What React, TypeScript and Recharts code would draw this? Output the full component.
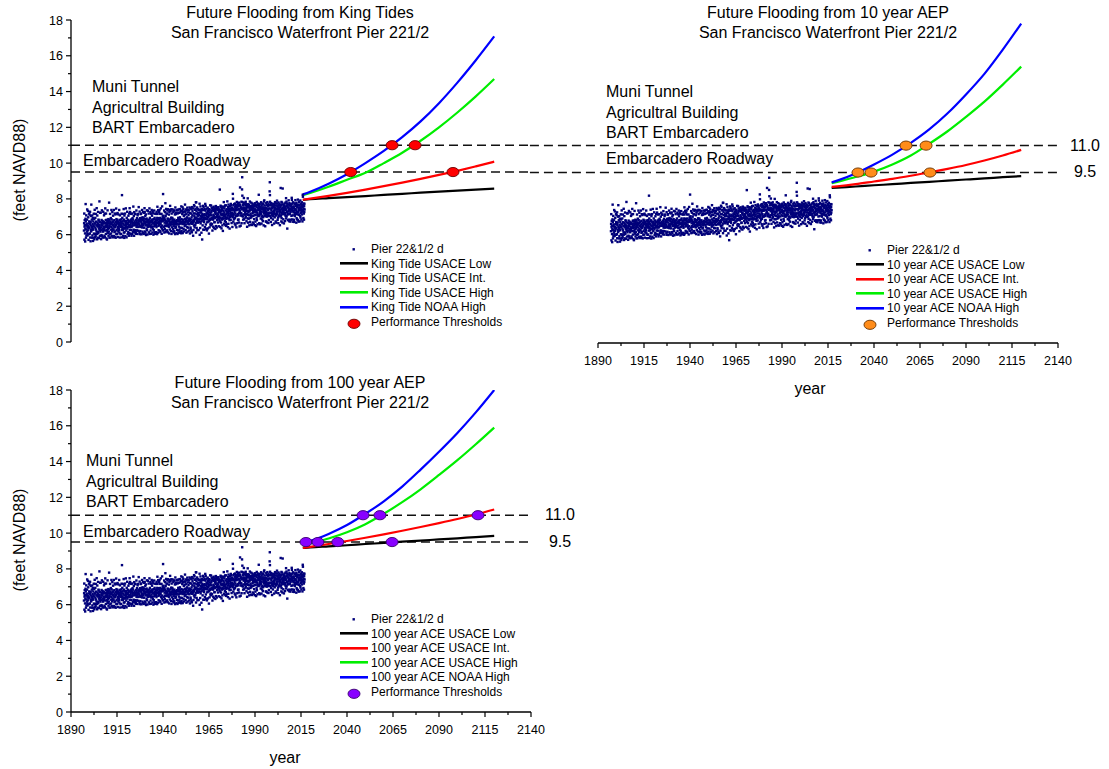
import React from "react";
import { ComposedChart, XAxis, YAxis, Line, Scatter, ReferenceLine } from "recharts";

const FONT = '"Liberation Sans", Arial, Helvetica, sans-serif';

// ---- observed monthly maxima at Pier 22 1/2 (feet NAVD88 x 100), Jan..Dec ----
const OBS_FIRST_YEAR = 1897;
const OBS_MONTHLY: string[] = [
  "623 664 718 572 645 681 653 607 562 634 689 771",
  "674 583 629 708 595 652 661 617 684 741 606 643",
  "596 648 733 624 697 635 571 662 639 718 674 603",
  "641 712 607 663 728 584 655 563 672 629 704 618",
  "768 625 647 684 583 641 707 596 659 632 693 565",
  "628 674 583 651 717 606 645 688 574 662 739 603",
  "663 585 694 637 592 716 628 673 604 651 617 748",
  "604 652 574 707 668 583 661 616 727 645 608 684",
  "679 634 656 581 648 786 624 671 593 638 722 626",
  "617 723 641 668 575 653 598 682 627 736 664 594",
  "652 585 676 634 662 617 728 645 584 671 626 708",
  "635 668 594 717 643 586 664 747 623 652 681 604",
  "718 642 665 579 683 627 573 654 676 618 736 644",
  "609 664 632 687 594 675 638 617 779 652 583 684",
  "663 602 716 645 672 584 657 693 628 606 661 738",
  "643 685 592 667 618 726 634 672 653 585 706 628",
  "674 628 656 738 593 645 681 614 663 718 641 586",
  "618 713 647 583 672 654 746 603 687 625 664 717",
  "682 604 663 721 636 587 674 642 618 713 654 633",
  "627 664 738 612 683 645 584 708 652 676 603 661",
  "664 643 604 685 652 717 626 673 821 585 694 638",
  "645 716 663 627 594 678 656 743 612 684 637 582",
  "707 613 676 652 718 634 592 665 643 747 672 654",
  "623 676 585 694 642 665 728 634 657 603 683 662",
  "665 614 706 643 675 594 652 718 608 673 748 627",
  "644 727 653 605 682 664 626 676 716 643 594 687",
  "673 646 603 718 654 692 665 614 684 652 757 623",
  "628 704 667 594 726 618 674 653 612 715 664 625",
  "716 654 613 682 605 667 735 643 676 624 692 656",
  "652 604 708 665 643 716 622 684 662 754 645 673",
  "681 658 614 729 676 603 692 648 620 687 715 643",
  "645 718 671 602 694 659 650 738 683 640 617 697",
  "662 609 726 684 653 677 604 691 639 722 665 748",
  "727 674 618 663 705 611 686 652 713 598 671 654",
  "634 690 657 736 625 681 601 672 649 733 643 668",
  "676 652 718 613 684 659 646 747 604 670 694 648",
  "651 726 623 675 668 605 717 640 683 656 738 674",
  "706 643 678 612 727 685 631 664 719 600 667 625",
  "646 687 735 661 613 694 670 654 605 717 652 682",
  "673 614 658 716 650 642 728 683 667 603 694 756",
  "716 664 611 685 737 672 649 625 692 660 726 653",
  "664 738 683 620 676 716 614 694 659 747 673 645",
  "643 676 716 605 634 687 758 651 675 624 703 680",
  "827 694 625 706 679 643 684 735 612 693 667 632",
  "726 651 683 776 615 704 648 675 744 663 620 717",
  "663 718 624 671 735 652 690 613 687 742 649 675",
  "681 644 712 658 607 726 673 738 629 685 761 664",
  "652 733 669 621 695 658 742 604 718 641 674 690",
  "694 657 741 683 618 670 632 726 659 735 612 647",
  "672 619 684 735 660 713 603 676 752 638 721 665",
  "643 715 656 609 723 674 738 627 681 662 604 736",
  "719 676 623 694 657 741 610 688 645 722 673 628",
  "661 743 697 616 682 639 725 664 733 670 608 758",
  "687 621 734 672 638 715 659 753 609 683 726 661",
  "744 676 632 705 671 618 730 663 712 648 689 768",
  "654 728 670 626 741 682 657 714 611 736 673 695",
  "696 642 751 679 617 724 665 639 738 660 709 683",
  "674 735 623 691 658 752 686 607 721 678 747 640",
  "632 685 718 664 743 619 697 670 613 754 661 708",
  "731 663 679 746 594 672 626 719 684 651 765 675",
  "703 758 641 718 692 739 655 687 742 665 781 612",
  "781 696 730 638 714 677 752 689 625 743 671 706",
  "667 722 689 741 626 708 674 738 712 685 773 599",
  "724 672 637 691 758 663 736 705 689 725 611 743",
  "675 742 698 573 716 737 652 709 684 761 628 692",
  "753 681 706 738 670 627 715 744 693 642 689 772",
  "692 734 761 657 708 633 686 719 745 701 624 718",
  "669 723 687 751 635 698 732 673 714 704 741 606",
  "742 678 725 641 737 683 709 764 690 656 718 662",
  "686 763 652 727 708 749 694 660 735 688 623 751",
  "738 684 741 645 697 712 756 703 638 732 692 669",
  "671 747 693 739 724 632 726 715 760 648 742 698",
  "754 697 640 706 745 681 737 719 699 752 668 713",
  "690 738 753 647 702 726 741 695 683 739 852 674",
  "726 643 695 762 716 731 668 756 709 635 690 744",
  "684 757 736 652 718 693 621 708 754 689 733 714",
  "782 705 661 747 723 758 710 676 691 763 654 700",
  "735 670 764 649 713 688 742 658 729 694 719 786",
  "693 741 706 642 754 727 661 768 715 738 690 745",
  "746 681 634 733 698 760 704 722 742 683 772 709",
  "703 764 748 665 736 722 751 707 643 745 698 828",
  "801 716 673 765 709 742 686 738 771 694 727 662",
  "756 692 774 718 653 737 765 704 743 706 641 758",
  "737 783 705 754 664 741 716 772 708 682 759 713",
  "685 744 763 668 779 722 740 646 731 768 864 724",
  "762 707 650 748 719 753 719 784 664 741 706 853",
  "921 818 782 745 701 767 684 752 713 776 734 805",
  "743 686 751 664 779 712 768 723 747 695 730 784",
  "702 763 737 771 675 748 716 758 644 733 769 691",
  "803 711 667 756 724 770 689 732 765 708 652 746",
  "731 754 785 672 738 693 760 717 656 752 704 779",
  "697 743 706 762 751 654 739 774 721 668 745 727",
  "764 705 752 661 728 733 687 759 770 712 766 653",
  "742 776 673 736 709 762 725 648 731 754 692 783",
  "681 735 767 720 658 752 706 774 712 743 769 704",
  "823 761 738 664 753 707 772 726 715 658 750 736",
  "754 690 746 781 716 763 662 728 701 742 685 774",
  "705 768 753 676 744 698 771 737 652 726 785 719",
  "792 745 706 763 718 751 647 736 740 703 674 727",
  "713 776 672 749 724 701 765 668 782 716 741 709",
  "761 704 738 665 773 747 682 723 718 764 706 842",
  "893 821 784 746 703 765 722 671 776 693 738 724",
  "747 763 712 654 751 773 706 729 685 761 716 753",
  "703 758 771 725 662 734 766 741 697 748 782 715",
  "752 716 674 763 741 707 775 667 728 714 742 790",
  "718 774 756 683 729 741 695 763 664 780 706 752",
  "764 743 705 772 716 739 653 728 767 702 755 861",
  "741 706 765 674 783 692 724 717 779 745 668 733",
  "858 752 714 768 686 725 743 736 663 761 718 750",
  "773 745 722 676 751 712 779 704 737 758 804 691",
  "742 785 703 759 774 726 634 767 716 753 681 730",
  "768 713 751 792 684 734 740 675 776 718 762 745",
  "716 767 745 673 728 771 684 762 739 705 753 806",
  "794 742 773 685 732 708 756 747 781 672 725 751",
  "757 683 734 748 671 775 712 769 704 721 740 793",
  "743 772 716 761 735 667 778 692 726 763 685 754",
  "765 714 752 796 682 727 768 673 738 710 783 744",
  "712 764 748 674 736 753 705 791 696 722 769 737",
  "774 743 685 762 726 781 713 756 737 674 752 823",
  "812 765 731 693 774 744 718 684 759 727 773 741",
];

// ---- axes ----
const X_MAJOR = [1890, 1915, 1940, 1965, 1990, 2015, 2040, 2065, 2090, 2115, 2140];
const Y_MAJOR = [0, 2, 4, 6, 8, 10, 12, 14, 16, 18];
const LEVELS = [11.0, 9.5];
const LEVEL_LABELS = ["11.0", "9.5"];

// ---- projections: King Tides ----
const KT_YEARS = [2016, 2020, 2030, 2040, 2050, 2060, 2070, 2080, 2090, 2100, 2110, 2120];
const KT_LOW = [7.95, 7.98, 8.04, 8.1, 8.16, 8.22, 8.28, 8.35, 8.41, 8.46, 8.52, 8.57];
const KT_INT = [7.95, 8.01, 8.17, 8.34, 8.52, 8.71, 8.91, 9.12, 9.34, 9.57, 9.82, 10.08];
const KT_HIGH = [8.2, 8.33, 8.68, 9.07, 9.46, 10.0, 10.58, 11.25, 12.0, 12.83, 13.73, 14.7];
const KT_NOAA = [8.25, 8.4, 8.85, 9.38, 10.0, 10.68, 11.45, 12.33, 13.35, 14.5, 15.75, 17.08];
const KT_THR_YEARS = [2042, 2064.5, 2077, 2097.6];
const KT_THR_LEVELS = [9.5, 11.0, 11.0, 9.5];

// ---- projections: 10 year AEP ----
const A10_YEARS = [2017, 2020, 2030, 2040, 2050, 2060, 2070, 2080, 2090, 2100, 2110, 2120];
const A10_LOW = [8.64, 8.66, 8.72, 8.79, 8.85, 8.92, 8.98, 9.05, 9.11, 9.17, 9.24, 9.3];
const A10_INT = [8.7, 8.73, 8.85, 9.0, 9.15, 9.32, 9.5, 9.7, 9.92, 10.17, 10.45, 10.76];
const A10_HIGH = [8.9, 8.98, 9.25, 9.55, 9.95, 10.45, 11.1, 11.8, 12.6, 13.45, 14.4, 15.4];
const A10_NOAA = [8.95, 9.05, 9.45, 9.95, 10.5, 11.15, 11.9, 12.8, 13.85, 15.0, 16.35, 17.8];
const A10_THR_YEARS = [2031.3, 2038.4, 2057.4, 2068.3, 2070.4];
const A10_THR_LEVELS = [9.5, 9.5, 11.0, 11.0, 9.5];

// ---- projections: 100 year AEP ----
const A100_YEARS = [2016, 2020, 2030, 2040, 2050, 2060, 2070, 2080, 2090, 2100, 2110, 2120];
const A100_LOW = [9.17, 9.2, 9.26, 9.32, 9.39, 9.45, 9.52, 9.58, 9.65, 9.71, 9.78, 9.84];
const A100_INT = [9.17, 9.23, 9.39, 9.56, 9.74, 9.93, 10.13, 10.34, 10.56, 10.79, 11.04, 11.32];
const A100_HIGH = [9.3, 9.42, 9.7, 10.05, 10.5, 11.08, 11.73, 12.45, 13.25, 14.08, 14.97, 15.9];
const A100_NOAA = [9.4, 9.55, 9.95, 10.45, 11.08, 11.78, 12.6, 13.55, 14.55, 15.6, 16.75, 18.0];
const A100_THR_YEARS = [2017.7, 2024.2, 2035, 2064.5, 2048.7, 2057.9, 2111.2];
const A100_THR_LEVELS = [9.5, 9.5, 9.5, 9.5, 11.0, 11.0, 11.0];

const TITLE_2 = "San Francisco Waterfront Pier 221/2";
const ASSETS = ["Muni Tunnel", "Agricultral Building", "BART Embarcadero"];
const ROADWAY = "Embarcadero Roadway";
const OBS_NAME = "Pier 22&1/2 d";
const THR_NAME = "Performance Thresholds";

const SERIES_COLORS = ["#000000", "#ff0000", "#00ee00", "#0000ff"];

const obsData = OBS_MONTHLY.flatMap((row, i) =>
  row.split(" ").map((c, m) => ({ x: OBS_FIRST_YEAR + i + (m + 0.5) / 12, y: Number(c) / 100 }))
);

const toPts = (xs: number[], ys: number[]) => xs.map((x, i) => ({ x, y: ys[i] }));

const xTicks = X_MAJOR.flatMap((v, i) => (i < X_MAJOR.length - 1 ? [v, v + 12.5] : [v]));
const yTicks = Array.from({ length: 19 }, (_, i) => i);

function YTick(props: any) {
  const { x, y, payload } = props;
  const major = Y_MAJOR.includes(payload.value);
  return (
    <g>
      <line x1={x} x2={x - (major ? 5 : 3)} y1={y} y2={y} stroke="#000" strokeWidth={1.2} />
      {major && (
        <text x={x - 8} y={y} dy="0.36em" textAnchor="end" fontSize={12.5} fontFamily={FONT} fill="#000">
          {payload.value}
        </text>
      )}
    </g>
  );
}

function XTick(props: any) {
  const { x, y, payload } = props;
  const major = X_MAJOR.includes(payload.value);
  return (
    <g>
      <line x1={x} x2={x} y1={y} y2={y + (major ? 5 : 3)} stroke="#000" strokeWidth={1.2} />
      {major && (
        <text x={x} y={y + 17} dy="0.36em" textAnchor="middle" fontSize={12.5} fontFamily={FONT} fill="#000">
          {payload.value}
        </text>
      )}
    </g>
  );
}

const ObsDot = (p: any) => <rect x={p.cx - 1.2} y={p.cy - 1.2} width={2.4} height={2.4} fill="#00007a" />;

function thrShape(fill: string, stroke: string) {
  return (p: any) => <ellipse cx={p.cx} cy={p.cy} rx={6} ry={4.6} fill={fill} stroke={stroke} strokeWidth={0.9} />;
}

type PanelProps = {
  left: number;
  top: number;
  width: number;
  height: number;
  margin: { top: number; right: number; bottom: number; left: number };
  showX: boolean;
  showY: boolean;
  dashFrom: number;
  years: number[];
  series: number[][];
  thrYears: number[];
  thrLevels: number[];
  thrFill: string;
  thrStroke: string;
};

function Panel(p: PanelProps) {
  const thrData = toPts(p.thrYears, p.thrLevels);
  return (
    <div style={{ position: "absolute", left: p.left, top: p.top }}>
      <ComposedChart width={p.width} height={p.height} margin={p.margin}>
        <XAxis
          dataKey="x"
          type="number"
          domain={[1890, 2140]}
          allowDataOverflow
          ticks={xTicks}
          interval={0}
          tick={<XTick />}
          tickLine={false}
          tickSize={0}
          tickMargin={0}
          height={40}
          axisLine={{ stroke: "#000", strokeWidth: 1.3 }}
          hide={!p.showX}
        />
        <YAxis
          dataKey="y"
          type="number"
          domain={[0, 18]}
          allowDataOverflow
          ticks={yTicks}
          interval={0}
          tick={<YTick />}
          tickLine={false}
          tickSize={0}
          tickMargin={0}
          width={40}
          axisLine={{ stroke: "#000", strokeWidth: 1.3 }}
          hide={!p.showY}
        />
        {LEVELS.map((lv) => (
          <ReferenceLine
            key={lv}
            segment={[
              { x: p.dashFrom, y: lv },
              { x: 2140, y: lv },
            ]}
            ifOverflow="visible"
            stroke="#111"
            strokeWidth={1.5}
            strokeDasharray="9 5"
          />
        ))}
        <Scatter data={obsData} dataKey="y" shape={ObsDot} isAnimationActive={false} />
        {p.series.map((vals, i) => (
          <Line
            key={i}
            data={toPts(p.years, vals)}
            dataKey="y"
            type="monotone"
            stroke={SERIES_COLORS[i]}
            strokeWidth={2.2}
            dot={false}
            activeDot={false}
            isAnimationActive={false}
          />
        ))}
        <Scatter data={thrData} dataKey="y" shape={thrShape(p.thrFill, p.thrStroke)} isAnimationActive={false} />
      </ComposedChart>
    </div>
  );
}

function Txt({ x, y, size = 16, align = "left", children }: any) {
  const tx = align === "center" ? "-50%" : "0";
  return (
    <div
      style={{
        position: "absolute",
        left: x,
        top: y,
        transform: `translate(${tx}, -50%)`,
        whiteSpace: "nowrap",
        fontSize: size,
        fontFamily: FONT,
        color: "#000",
        lineHeight: 1,
      }}
    >
      {children}
    </div>
  );
}

function YLabel({ x, y }: { x: number; y: number }) {
  return (
    <div
      style={{
        position: "absolute",
        left: x,
        top: y,
        transform: "translate(-50%, -50%) rotate(-90deg)",
        whiteSpace: "nowrap",
        fontSize: 16,
        fontFamily: FONT,
        lineHeight: 1,
      }}
    >
      (feet NAVD88)
    </div>
  );
}

function LegendBox({ x, y, names, thrFill, thrStroke }: any) {
  const rowH = 14.6;
  const labels = [OBS_NAME, ...names, THR_NAME];
  return (
    <div style={{ position: "absolute", left: x, top: y - rowH / 2 }}>
      {labels.map((name: string, i: number) => (
        <div key={name} style={{ display: "flex", alignItems: "center", height: rowH }}>
          <svg width={28} height={rowH} style={{ display: "block" }}>
            {i === 0 && <rect x={12.5} y={rowH / 2 - 1.2} width={2.4} height={2.4} fill="#00007a" />}
            {i >= 1 && i <= 4 && (
              <line x1={0} x2={28} y1={rowH / 2} y2={rowH / 2} stroke={SERIES_COLORS[i - 1]} strokeWidth={2.6} />
            )}
            {i === 5 && (
              <ellipse cx={14} cy={rowH / 2 + 1.5} rx={6} ry={4.6} fill={thrFill} stroke={thrStroke} strokeWidth={0.9} />
            )}
          </svg>
          <span style={{ marginLeft: 3, fontSize: 12, fontFamily: FONT, whiteSpace: "nowrap", lineHeight: 1 }}>
            {name}
          </span>
        </div>
      ))}
    </div>
  );
}

function Annotations({ x, y, roadX, roadY }: any) {
  return (
    <>
      {ASSETS.map((a, i) => (
        <Txt key={a} x={x} y={y + i * 20.5}>
          {a}
        </Txt>
      ))}
      <Txt x={roadX} y={roadY}>
        {ROADWAY}
      </Txt>
    </>
  );
}

export default function App() {
  return (
    <div
      style={{
        position: "absolute",
        left: 0,
        top: 0,
        width: 1109,
        height: 769,
        background: "#fff",
        overflow: "hidden",
      }}
    >
      {/* top-left: King Tides */}
      <Panel
        left={0}
        top={0}
        width={620}
        height={360}
        margin={{ top: 20, right: 89, bottom: 18, left: 31 }}
        showX={false}
        showY={true}
        dashFrom={1890}
        years={KT_YEARS}
        series={[KT_LOW, KT_INT, KT_HIGH, KT_NOAA]}
        thrYears={KT_THR_YEARS}
        thrLevels={KT_THR_LEVELS}
        thrFill="#ff0000"
        thrStroke="#6a0000"
      />
      {/* top-right: 10 year AEP */}
      <Panel
        left={520}
        top={0}
        width={589}
        height={400}
        margin={{ top: 20, right: 51, bottom: 17, left: 78 }}
        showX={true}
        showY={false}
        dashFrom={1853}
        years={A10_YEARS}
        series={[A10_LOW, A10_INT, A10_HIGH, A10_NOAA]}
        thrYears={A10_THR_YEARS}
        thrLevels={A10_THR_LEVELS}
        thrFill="#ff8c1a"
        thrStroke="#6a3300"
      />
      {/* bottom-left: 100 year AEP */}
      <Panel
        left={0}
        top={370}
        width={620}
        height={399}
        margin={{ top: 20, right: 89, bottom: 17, left: 31 }}
        showX={true}
        showY={true}
        dashFrom={1890}
        years={A100_YEARS}
        series={[A100_LOW, A100_INT, A100_HIGH, A100_NOAA]}
        thrYears={A100_THR_YEARS}
        thrLevels={A100_THR_LEVELS}
        thrFill="#8800ff"
        thrStroke="#3a0070"
      />

      {/* titles */}
      <Txt x={300} y={13} align="center">Future Flooding from King Tides</Txt>
      <Txt x={300} y={33} align="center">{TITLE_2}</Txt>
      <Txt x={828} y={13} align="center">Future Flooding from 10 year AEP</Txt>
      <Txt x={828} y={33} align="center">{TITLE_2}</Txt>
      <Txt x={300} y={383} align="center">Future Flooding from 100 year AEP</Txt>
      <Txt x={300} y={403} align="center">{TITLE_2}</Txt>

      <Annotations x={92} y={87} roadX={83} roadY={161} />
      <Annotations x={606} y={92} roadX={606} roadY={159} />
      <Annotations x={86} y={461} roadX={83} roadY={532} />

      {LEVEL_LABELS.map((t, i) => (
        <Txt key={"a" + t} x={1085} y={i === 0 ? 146 : 172} align="center">{t}</Txt>
      ))}
      {LEVEL_LABELS.map((t, i) => (
        <Txt key={"b" + t} x={560} y={i === 0 ? 515 : 542} align="center">{t}</Txt>
      ))}

      <YLabel x={20} y={170} />
      <YLabel x={20} y={540} />
      <Txt x={810} y={389} align="center">year</Txt>
      <Txt x={285} y={758} align="center">year</Txt>

      <LegendBox
        x={340}
        y={249}
        names={["King Tide USACE Low", "King Tide USACE Int.", "King Tide USACE High", "King Tide NOAA High"]}
        thrFill="#ff0000"
        thrStroke="#6a0000"
      />
      <LegendBox
        x={856}
        y={250}
        names={["10 year ACE USACE Low", "10 year ACE USACE Int.", "10 year ACE USACE High", "10 year ACE NOAA High"]}
        thrFill="#ff8c1a"
        thrStroke="#6a3300"
      />
      <LegendBox
        x={340}
        y={619}
        names={["100 year ACE USACE Low", "100 year ACE USACE Int.", "100 year ACE USACE High", "100 year ACE NOAA High"]}
        thrFill="#8800ff"
        thrStroke="#3a0070"
      />
    </div>
  );
}
